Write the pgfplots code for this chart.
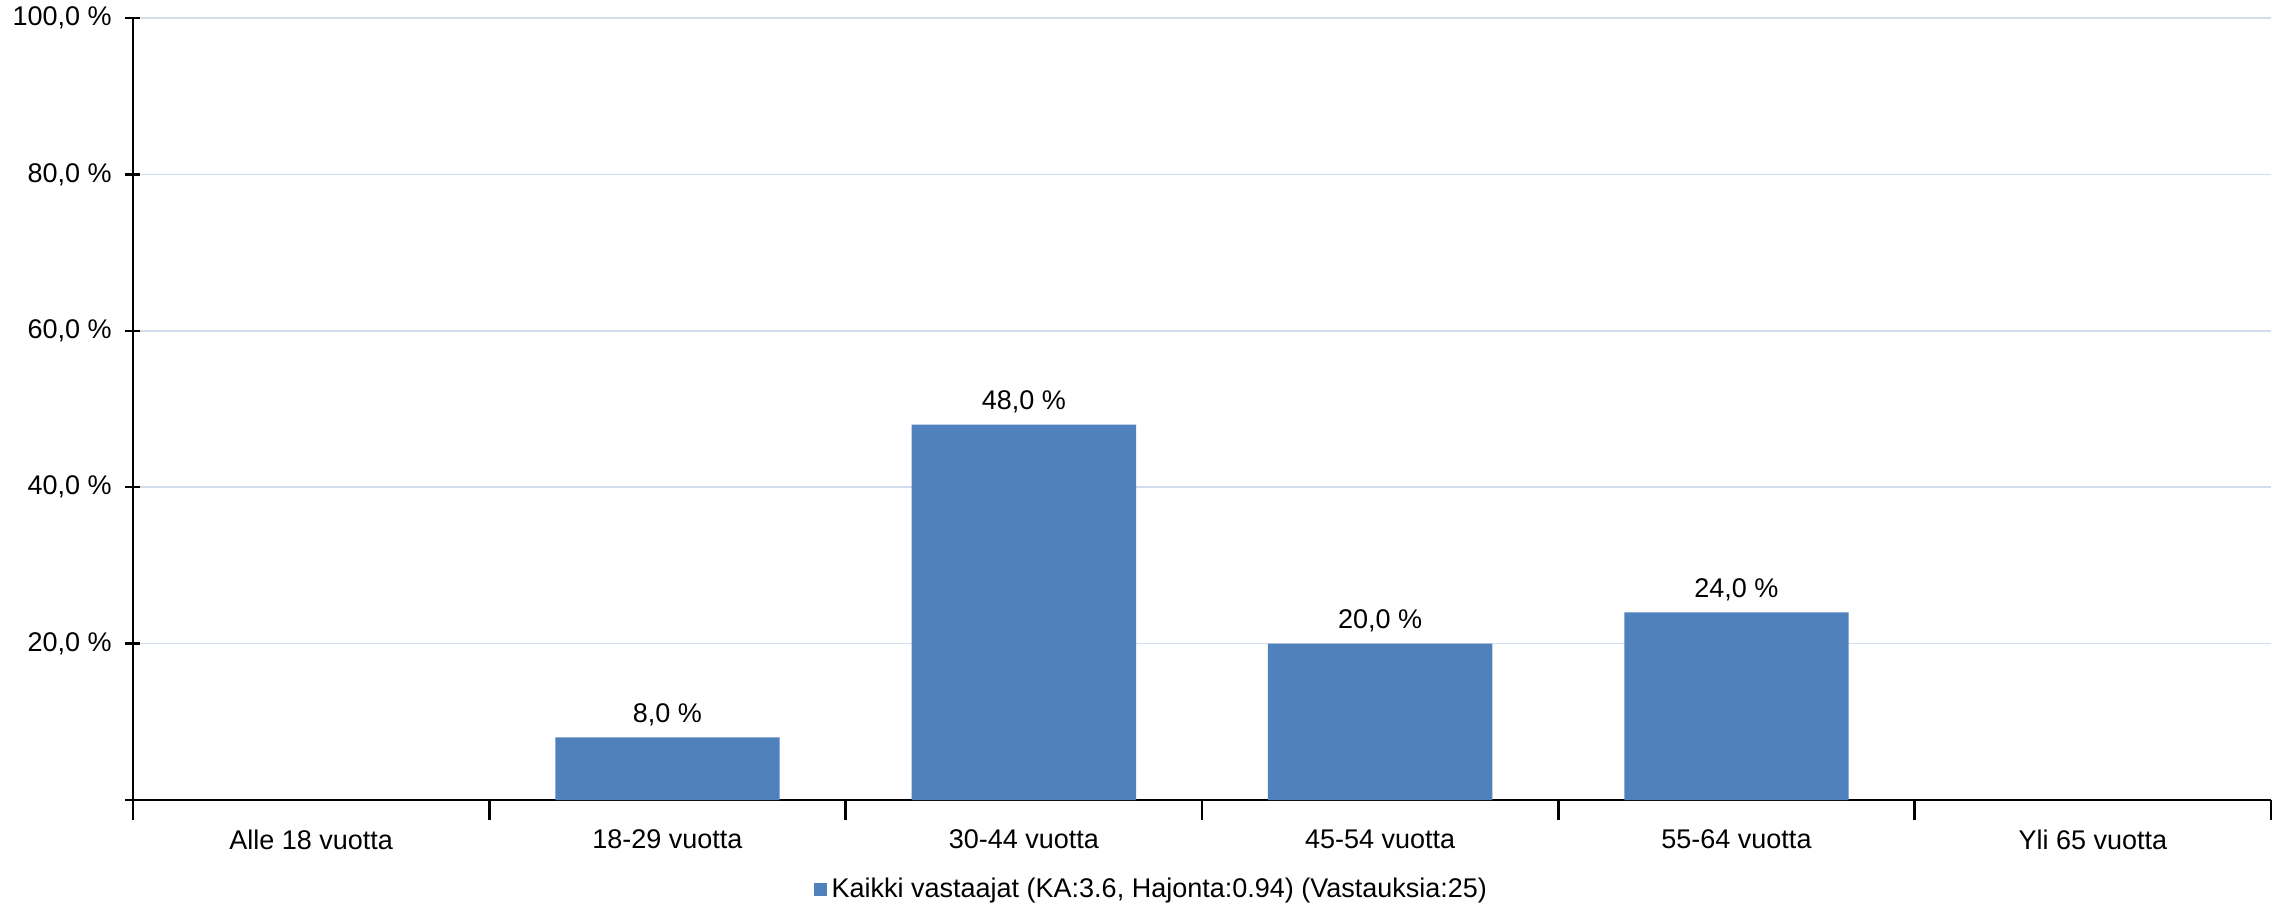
\documentclass[border=0pt]{standalone}
\usepackage{pgfplots}
\pgfplotsset{compat=1.18}
\usepackage{fontspec}
\setmainfont{Liberation Sans}
\definecolor{barblue}{RGB}{79,129,189}
\definecolor{gridc}{RGB}{210,222,235}
\newcommand{\fs}{\fontsize{10.8}{12.9}\selectfont}
\begin{document}
\begin{tikzpicture}[font=\fs]
\path[use as bounding box] (-53.2pt,-42.4pt) rectangle (860.8pt,320pt);
\begin{axis}[
  at={(0,0)}, anchor=south west,
  scale only axis,
  width=855.2pt, height=312.8pt,
  xmin=-0.5, xmax=5.5, ymin=0, ymax=100,
  axis x line*=bottom, axis y line*=left,
  axis line style={line width=1pt, black, -},
  xtick={0,1,2,3,4,5},
  xticklabels={Alle 18 vuotta,18-29 vuotta,30-44 vuotta,45-54 vuotta,55-64 vuotta,Yli 65 vuotta},
  major x tick style={draw=none},
  minor xtick={-0.5,0.5,1.5,2.5,3.5,4.5,5.5},
  minor x tick style={line width=1pt, black},
  minor tick length=8pt,
  ytick={0,20,40,60,80,100},
  yticklabels={{},{20,0 \%},{40,0 \%},{60,0 \%},{80,0 \%},{100,0 \%}},
  major y tick style={line width=1pt, black},
  major tick length=6pt,
  tick align=center,
  ymajorgrids, grid style={gridc, line width=0.6pt},
  tick label style={font=\fs, black},
  xticklabel style={yshift=-2.3pt},
  yticklabel style={xshift=-2pt},
  ybar, bar width=0.63,
  nodes near coords,
  point meta=explicit symbolic,
  nodes near coords style={font=\fs, black, yshift=1pt},
  legend style={at={(0.477,-0.114)}, anchor=center, draw=none, fill=none, font=\fs,
    legend cell align=left, inner sep=0pt},
  legend image code/.code={\fill[barblue] (0pt,-2.6pt) rectangle (5.2pt,2.6pt);},
]
\addplot[fill=barblue, draw=none] coordinates {
  (1,8) [8,0 \%]
  (2,48) [48,0 \%]
  (3,20) [20,0 \%]
  (4,24) [24,0 \%]
};
\addlegendentry{Kaikki vastaajat (KA:3.6, Hajonta:0.94) (Vastauksia:25)}
\end{axis}
\end{tikzpicture}
\end{document}
